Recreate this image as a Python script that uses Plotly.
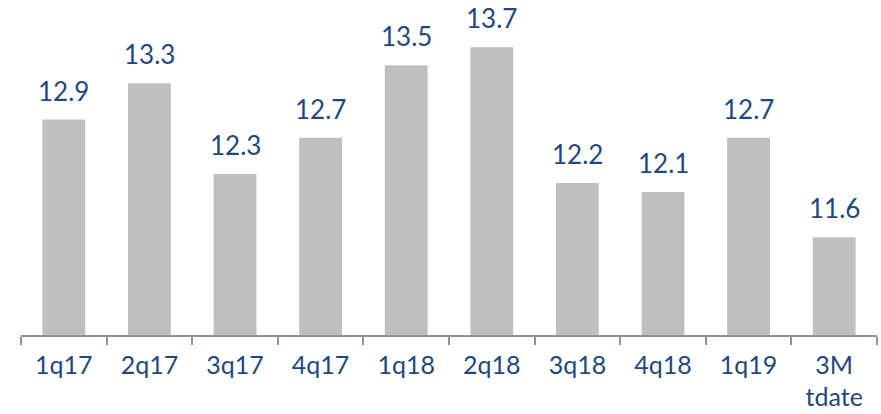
"""Quarterly bars with value labels, truncated y baseline."""
import plotly.graph_objects as go

QUARTERS = ["1q17", "2q17", "3q17", "4q17", "1q18", "2q18", "3q18", "4q18", "1q19", "3M<br>tdate"]
VALUES = [12.9, 13.3, 12.3, 12.7, 13.5, 13.7, 12.2, 12.1, 12.7, 11.6]

BAR_COLOR = "#BFBFBF"
TEXT_COLOR = "#1F497D"
AXIS_COLOR = "#8C93A6"
FONT = "Lato, 'Open Sans', sans-serif"

fig = go.Figure(go.Bar(
    x=QUARTERS, y=VALUES,
    marker=dict(color=BAR_COLOR, line=dict(width=0)),
    width=0.5,
    hoverinfo="skip",
))

# value labels sit a bit higher than plotly's outside text would
for q, v in zip(QUARTERS, VALUES):
    fig.add_annotation(
        x=q, y=v, text=f"{v:.1f}", showarrow=False,
        yanchor="bottom", yshift=11,
        font=dict(family=FONT, size=26, color=TEXT_COLOR),
    )

fig.update_layout(
    width=881, height=414,
    margin=dict(l=21, r=4, t=20, b=79, autoexpand=False),
    plot_bgcolor="white", paper_bgcolor="white",
    showlegend=False,
    font=dict(family=FONT, size=25, color=TEXT_COLOR),
)
fig.update_xaxes(
    showline=True, linecolor=AXIS_COLOR, linewidth=1.5,
    ticks="outside", tickson="boundaries", ticklen=8,
    tickcolor=AXIS_COLOR, tickwidth=1.5,
    ticklabelstandoff=7,
    tickfont=dict(family=FONT, size=25, color=TEXT_COLOR),
    showgrid=False, automargin=False,
)
fig.update_yaxes(visible=False, range=[10.52, 14.0])

# drop the browser's default body margin so the figure fills the window
fig.write_html(
    "out.html",
    config={"displayModeBar": False},
    post_script="document.body.style.margin = '0';",
)
